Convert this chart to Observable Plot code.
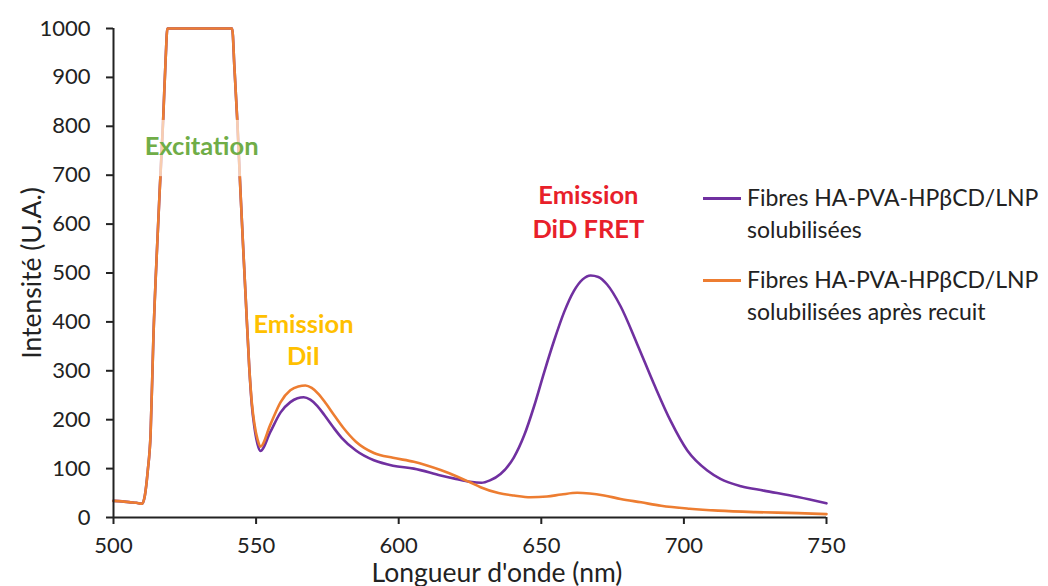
<!DOCTYPE html>
<html>
<head>
<meta charset="utf-8">
<script src="https://cdn.jsdelivr.net/npm/d3@7"></script>
<script src="https://cdn.jsdelivr.net/npm/@observablehq/plot@0.6"></script>
<style>
  html, body { margin: 0; padding: 0; background: #fff; }
  #wrap { position: relative; width: 1048px; height: 586px; overflow: hidden; }
  #legend { position: absolute; left: 0; top: 0; font-family: Lato, sans-serif; font-size: 23px; color: #222; }
  .item { position: absolute; left: 703px; white-space: nowrap; }
  .swatch { position: absolute; left: 0; width: 38px; height: 0; border-top: 3px solid; }
  .txt { position: absolute; left: 44px; line-height: 32px; }
</style>
</head>
<body>
<div id="wrap"><div id="legend"></div></div>
<script>
// ---- data ----
const seriesNames = [
  "Fibres HA-PVA-HPβCD/LNP solubilisées",
  "Fibres HA-PVA-HPβCD/LNP solubilisées après recuit"
];
const legendLines = [
  ["Fibres HA-PVA-HPβCD/LNP", "solubilisées"],
  ["Fibres HA-PVA-HPβCD/LNP", "solubilisées après recuit"]
];
const seriesColors = ["#7030A0", "#ED7D31"];

const wavelengthA = [500, 503, 506, 508, 510, 511, 512, 513, 514, 515.5, 516.2, 517.4, 518.3, 518.9, 541.6, 542.4, 543.4, 544.5, 545.4, 546.4, 547.6, 548.5, 549.4, 550.5, 551.5, 555, 558.6, 562, 564.5, 566.7, 569, 571.5, 574, 577, 580, 585, 591.3, 598, 605.3, 614.7, 620, 625, 629, 632, 635.7, 640.4, 644, 647.5, 651, 654.5, 658, 661.4, 664.5, 667.3, 670, 673, 677.8, 683.6, 689.5, 695.3, 701.2, 708.2, 712.8, 720, 728, 740, 750];
const intensityA  = [34, 33, 31, 30, 28, 45, 95, 170, 370, 580, 669, 812, 940, 1000, 1000, 920, 812, 669, 560, 444, 307, 230, 185, 150, 136, 175, 215, 236, 244, 246, 241, 228, 209, 185, 163, 137, 117, 106, 100, 86, 79, 73, 71, 76, 89, 123, 168, 228, 297, 362, 420, 463, 487, 495, 492, 477, 432, 355, 273, 198, 137, 96, 79, 64, 55, 42, 29];

const wavelengthB = [500, 503, 506, 508, 510, 511, 512, 513, 514, 515.5, 516.2, 517.4, 518.3, 518.9, 541.6, 542.4, 543.4, 544.5, 545.4, 546.4, 547.6, 548.5, 549.4, 550.5, 551.5, 555, 558.6, 562, 564.8, 567.3, 569.5, 572, 574.5, 577.5, 580.5, 585, 591.3, 598, 605.3, 614.7, 620, 625, 628.7, 635, 640.4, 646.2, 652, 657, 662.6, 667, 672, 677.8, 685, 692, 702, 712, 725, 740, 750];
const intensityB  = [34, 33, 31, 30, 28, 45, 95, 170, 370, 580, 669, 812, 940, 1000, 1000, 920, 812, 669, 560, 444, 307, 235, 192, 160, 145, 190, 236, 260, 268, 270, 265, 252, 233, 208, 184, 155, 132, 122, 114, 97, 85, 72, 62, 50, 45, 41.5, 43, 47, 50.5, 49, 45, 38, 31, 24, 18, 14, 11, 9, 7];

const xTicks = [500, 550, 600, 650, 700, 750];
const yTicks = [0, 100, 200, 300, 400, 500, 600, 700, 800, 900, 1000];
const xTitle = "Longueur d'onde (nm)";
const yTitle = "Intensité (U.A.)";

const annoText  = ["Excitation", "Emission", "DiI", "Emission", "DiD FRET"];
const annoX     = [530.9, 566.6, 566.6, 666.5, 666.5];
const annoY     = [757, 395, 329, 658, 589];
const annoColor = ["#70AD47", "#FFC000", "#FFC000", "#E8202A", "#E8202A"];
const excitationBox = [{x1: 509.6, x2: 552, y1: 697, y2: 812}];

// ---- build tables ----
const rows = [];
wavelengthA.forEach((w, i) => rows.push({wl: w, v: intensityA[i], s: seriesNames[0]}));
wavelengthB.forEach((w, i) => rows.push({wl: w, v: intensityB[i], s: seriesNames[1]}));
const annos = annoText.map((t, i) => ({t, x: annoX[i], y: annoY[i], c: annoColor[i]}));

const chart = Plot.plot({
  width: 1048,
  height: 586,
  marginLeft: 113,
  marginRight: 222,
  marginTop: 28,
  marginBottom: 69,
  style: {fontFamily: "Lato, sans-serif", fontSize: "22px", color: "#222", background: "#fff"},
  x: {domain: [500, 750]},
  y: {domain: [0, 1000]},
  color: {domain: seriesNames, range: seriesColors},
  marks: [
    Plot.lineY(rows, {x: "wl", y: "v", stroke: "s", strokeWidth: 2.6, curve: "monotone-x"}),
    Plot.rect(excitationBox, {x1: "x1", x2: "x2", y1: "y1", y2: "y2", fill: "white", fillOpacity: 0.62}),
    Plot.text(annos, {x: "x", y: "y", text: "t", fill: "c", fontWeight: "bold", fontSize: 25.5, fontFamily: "Lato, sans-serif"}),
    Plot.axisX({ticks: xTicks, tickSize: 7, tickPadding: 13, strokeWidth: 2, stroke: "#222", fill: "#222", fontSize: 22, label: null}),
    Plot.axisY({ticks: yTicks, tickFormat: d3.format("d"), tickSize: 7, tickPadding: 16, strokeWidth: 2, stroke: "#222", fill: "#222", fontSize: 22,
      label: yTitle, labelAnchor: "center", labelArrow: "none", labelOffset: 91}),
    Plot.ruleY([0], {stroke: "#222", strokeWidth: 2}),
    Plot.ruleX([500], {stroke: "#222", strokeWidth: 2}),
    Plot.text([xTitle], {frameAnchor: "bottom", dx: 27, dy: 64, lineAnchor: "bottom", fontSize: 26.5, fill: "#222"})
  ]
});
// enlarge the y-axis title
chart.querySelectorAll("g[aria-label='y-axis label'] text").forEach(t => t.setAttribute("font-size", "26.5"));
document.getElementById("wrap").prepend(chart);

// ---- legend (HTML overlay in right margin) ----
const legend = document.getElementById("legend");
const itemTops = [198, 280];
legendLines.forEach((lines, i) => {
  const item = document.createElement("div");
  item.className = "item";
  item.style.top = itemTops[i] + "px";
  const sw = document.createElement("div");
  sw.className = "swatch";
  sw.style.borderColor = seriesColors[i];
  sw.style.top = "-1px";
  const tx = document.createElement("div");
  tx.className = "txt";
  tx.style.top = "-17px";
  tx.innerHTML = lines.join("<br>");
  item.appendChild(sw);
  item.appendChild(tx);
  legend.appendChild(item);
});
</script>
</body>
</html>
